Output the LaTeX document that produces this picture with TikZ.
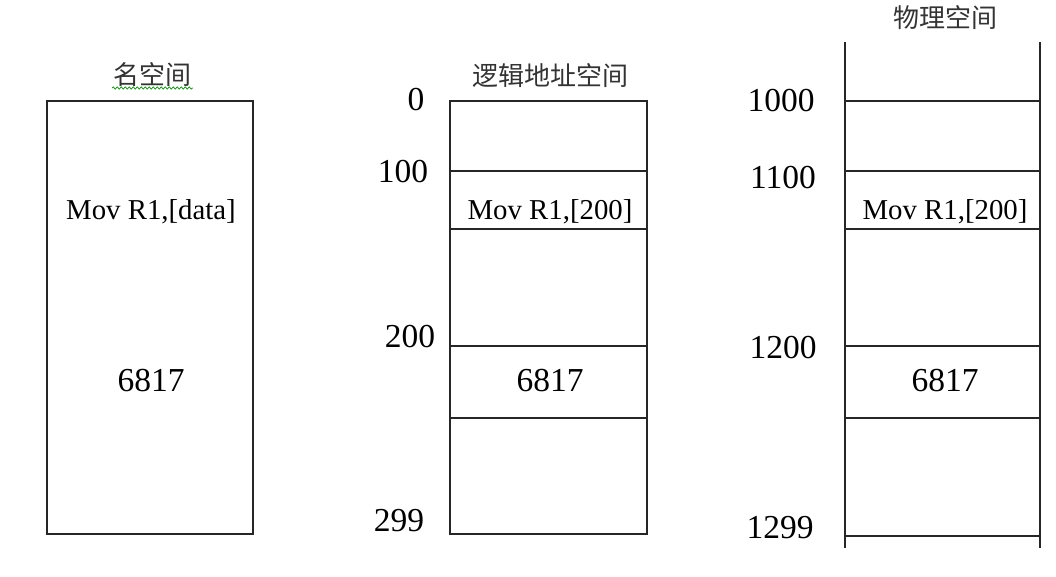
\documentclass[tikz,border=0pt]{standalone}
\usepackage{fontspec}
\setmainfont{Liberation Serif}
\newfontfamily\cjk{Noto Sans CJK SC}
\usetikzlibrary{decorations.pathmorphing}
\begin{document}
\begin{tikzpicture}[x=1pt,y=-1pt,
  ln/.style={line width=1.4pt,draw=black!85},
  num/.style={font=\fontsize{33.5}{34}\selectfont,inner sep=0pt},
  cell/.style={font=\fontsize{28.8}{30}\selectfont,inner sep=0pt},
  ttl/.style={font=\cjk\fontsize{26}{27}\selectfont,inner sep=0pt,text=black!80}]
\useasboundingbox (0,0) rectangle (1056,577);
% left box
\draw[ln] (47,101) rectangle (253,534);
\node[ttl] (t1) at (152,75) {名空间};
\draw[green!60!black,line width=0.7pt,decorate,decoration={snake,amplitude=1.2pt,segment length=4pt}] (112,88) -- (193,88);
\node[cell] (m1) at (151,212) {Mov R1,[data]};
\node[num] (d1) at (151,381) {6817};
% middle box
\draw[ln] (450,101) rectangle (647,534);
\foreach \y in {171,229,346,418} \draw[ln] (450,\y) -- (647,\y);
\node[ttl] (t2) at (550,76) {逻辑地址空间};
\node[cell] (m2) at (550,212) {Mov R1,[200]};
\node[num] (d2) at (550,381) {6817};
\node[num] (a0) at (416,100) {0};
\node[num] (a1) at (403,172) {100};
\node[num] (a2) at (410,337) {200};
\node[num] (a3) at (399,521) {299};
% right column
\draw[ln] (845,42) -- (845,548);
\draw[ln] (1040,42) -- (1040,548);
\foreach \y in {101,171,229,346,418,536} \draw[ln] (845,\y) -- (1040,\y);
\node[ttl] (t3) at (945,18) {物理空间};
\node[cell] (m3) at (945,212) {Mov R1,[200]};
\node[num] (d3) at (945,381) {6817};
\node[num] (b0) at (781,101) {1000};
\node[num] (b1) at (783,178) {1100};
\node[num] (b2) at (783,348) {1200};
\node[num] (b3) at (780,528) {1299};
\end{tikzpicture}
\end{document}
